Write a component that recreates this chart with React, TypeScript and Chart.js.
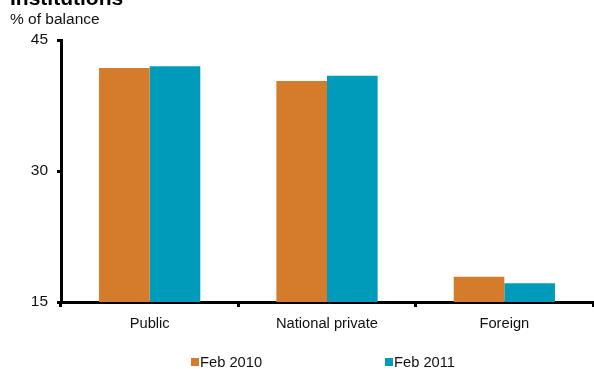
import React, { useEffect, useRef } from "react";
import { Chart, registerables } from "chart.js";

Chart.register(...registerables);

const categories = ["Public", "National private", "Foreign"];
const feb2010 = [41.8, 40.3, 17.9];
const feb2011 = [42.0, 40.9, 17.15];
const seriesLabels = ["Feb 2010", "Feb 2011"];
const seriesColors = ["#D47C2B", "#009BBA"];
const yTicks = [15, 30, 45];
const titleText = "Institutions";
const unitText = "% of balance";

const FONT = "'Liberation Sans', Arial, sans-serif";

const overlay = {
  id: "overlay",
  afterDraw(chart: any) {
    const ctx = chart.ctx;
    ctx.save();
    ctx.fillStyle = "#000";
    ctx.textBaseline = "alphabetic";
    ctx.textAlign = "left";
    ctx.font = `bold 21px ${FONT}`;
    ctx.fillText(titleText, 10, 5);
    ctx.fillStyle = "#111";
    ctx.font = `15.5px ${FONT}`;
    ctx.fillText(unitText, 10, 24);
    // legend
    const y = 362;
    const items = [
      { x: 191, label: seriesLabels[0], color: seriesColors[0] },
      { x: 385, label: seriesLabels[1], color: seriesColors[1] },
    ];
    ctx.textBaseline = "middle";
    ctx.font = `14.7px ${FONT}`;
    for (const it of items) {
      ctx.fillStyle = it.color;
      ctx.fillRect(it.x, y - 4, 8, 8);
      ctx.fillStyle = "#111";
      ctx.fillText(it.label, it.x + 9, y + 0.5);
    }
    ctx.restore();
  },
};

export default function App() {
  const ref = useRef<HTMLCanvasElement>(null);
  useEffect(() => {
    const chart = new Chart(ref.current!, {
      type: "bar",
      data: {
        labels: categories,
        datasets: [
          { label: seriesLabels[0], data: feb2010, backgroundColor: seriesColors[0] },
          { label: seriesLabels[1], data: feb2011, backgroundColor: seriesColors[1] },
        ],
      },
      options: {
        animation: false,
        responsive: false,
        devicePixelRatio: 1,
        layout: { padding: { left: 0, right: 1, top: 40, bottom: 0 } },
        datasets: { bar: { categoryPercentage: 0.571, barPercentage: 1.0 } } as any,
        plugins: { legend: { display: false }, title: { display: false }, tooltip: { enabled: false } },
        scales: {
          x: {
            grid: { drawOnChartArea: false, offset: true, tickLength: 5, tickColor: "#000", tickWidth: 3 },
            border: { color: "#000", width: 3 },
            ticks: { color: "#111", font: { family: FONT, size: 14.7 }, padding: 8 },
            afterFit: (s: any) => { s.height = 67; },
          },
          y: {
            min: 15,
            max: 45,
            afterBuildTicks: (s: any) => { s.ticks = yTicks.map((v) => ({ value: v })); },
            grid: { drawOnChartArea: false, tickLength: 4, tickColor: "#000", tickWidth: 3 },
            border: { color: "#000", width: 3 },
            ticks: { color: "#111", font: { family: FONT, size: 15.5 }, padding: 9 },
            afterFit: (s: any) => { s.width = 61; },
          },
        },
      },
      plugins: [overlay],
    });
    return () => chart.destroy();
  }, []);
  return (
    <div style={{ position: "fixed", left: 0, top: 0, width: 594, height: 369, background: "#fff" }}>
      <canvas ref={ref} width={594} height={369} style={{ display: "block" }} />
    </div>
  );
}
